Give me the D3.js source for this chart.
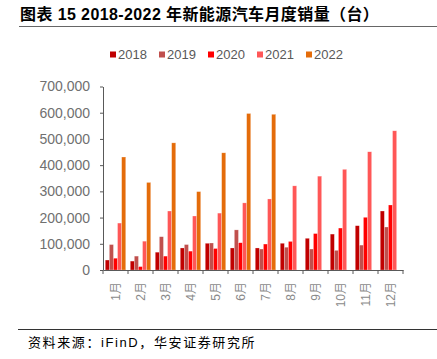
<!doctype html>
<html>

<head>
    <meta charset="utf-8">
    <style>
        body {
            margin: 0;
            background: #fff;
        }

        text {
            font-family: Arial, "Liberation Sans", "Noto Sans CJK SC", sans-serif;
        }

        .axis path,
        .axis line {
            stroke: #595959;
        }

        .y text {
            font-size: 14px;
            fill: #707070;
        }

        .x text {
            font-size: 12px;
            fill: #8a8a8a;
        }
    </style>
    <script src="https://d3js.org/d3.v7.min.js"></script>
</head>

<body>
    <script>
        const months = ["1月", "2月", "3月", "4月", "5月", "6月", "7月", "8月", "9月", "10月", "11月", "12月"]
        const years = ["2018", "2019", "2020", "2021", "2022"]
        const colors = ["#C00000", "#C0504D", "#FF0000", "#FF5757", "#E46C0A"]

        // monthly sales per year (units)
        const s2018 = [38000, 34000, 68000, 84000, 102000, 84000, 84000, 102000, 121000, 137000, 169000, 225000]
        const s2019 = [97000, 53000, 127000, 97000, 103000, 153000, 80000, 87000, 80000, 75000, 95000, 164000]
        const s2020 = [45000, 13000, 53000, 72000, 82000, 104000, 99000, 109000, 139000, 160000, 201000, 248000]
        const s2021 = [179000, 110000, 225000, 206000, 217000, 256000, 271000, 321000, 358000, 384000, 451000, 531000]
        const s2022 = [431000, 334000, 485000, 299000, 447000, 597000, 594000, null, null, null, null, null]
        const series = [s2018, s2019, s2020, s2021, s2022]

        const yTicks = [0, 100000, 200000, 300000, 400000, 500000, 600000, 700000]

        const svg = d3.select("body").append("svg")
            .attr("width", 437)
            .attr("height", 359)

        // title
        svg.append("text")
            .attr("x", 20)
            .attr("y", 20)
            .style("font-size", "16px")
            .style("font-weight", "bold")
            .style("letter-spacing", "0.4px")
            .style("fill", "#000")
            .text("图表 15 2018-2022 年新能源汽车月度销量（台）")

        svg.append("line")
            .attr("x1", 19).attr("x2", 437)
            .attr("y1", 26.5).attr("y2", 26.5)
            .attr("stroke", "#666").attr("stroke-width", 1)

        const x = d3.scaleBand().domain(months).range([103, 403])
        const inner = d3.scaleBand().domain(years).range([0, x.bandwidth()]).paddingOuter(0.55)
        const y = d3.scaleLinear().domain([0, 700000]).range([270, 86.5])

        // bars
        const rows = []
        series.forEach((s, i) => s.forEach((v, j) => {
            if (v != null) rows.push({ m: months[j], yr: years[i], v: v, c: colors[i] })
        }))

        svg.append("g")
            .selectAll("rect")
            .data(rows)
            .enter()
            .append("rect")
            .attr("x", d => x(d.m) + inner(d.yr))
            .attr("width", inner.bandwidth())
            .attr("y", d => y(d.v))
            .attr("height", d => y(0) - y(d.v))
            .attr("fill", d => d.c)
            .attr("stroke", "#fff")
            .attr("stroke-opacity", 0.5)
            .attr("stroke-width", 0.5)

        // y axis
        svg.append("g")
            .attr("class", "axis y")
            .attr("transform", "translate(103,0)")
            .call(d3.axisLeft(y).tickValues(yTicks).tickSize(3).tickSizeOuter(0).tickPadding(10).tickFormat(d3.format(",")))

        // x axis
        const xAxis = svg.append("g")
            .attr("class", "axis x")
            .attr("transform", "translate(0,270)")
            .call(d3.axisBottom(x).tickSize(0).tickSizeOuter(0).tickFormat(""))

        xAxis.selectAll(".sep")
            .data(months.concat(["end"]))
            .enter()
            .append("line")
            .attr("class", "sep")
            .attr("x1", (d, i) => 103 + i * x.step())
            .attr("x2", (d, i) => 103 + i * x.step())
            .attr("y1", 0).attr("y2", 4)

        svg.append("g")
            .attr("class", "x")
            .selectAll("text")
            .data(months)
            .enter()
            .append("text")
            .attr("transform", d => `translate(${x(d) + x.bandwidth() / 2 + 4},282) rotate(-90)`)
            .attr("text-anchor", "end")
            .text(d => d)

        // legend
        const legend = svg.append("g")
            .selectAll("g")
            .data(years)
            .enter()
            .append("g")
            .attr("transform", (d, i) => `translate(${110 + i * 49},52)`)

        legend.append("rect")
            .attr("width", 6).attr("height", 6)
            .attr("y", -0.5)
            .attr("fill", (d, i) => colors[i])

        legend.append("text")
            .attr("x", 8)
            .attr("y", 7)
            .style("font-size", "13px")
            .style("fill", "#595959")
            .text(d => d)

        // source
        svg.append("line")
            .attr("x1", 18).attr("x2", 437)
            .attr("y1", 329.5).attr("y2", 329.5)
            .attr("stroke", "#333").attr("stroke-width", 1)

        svg.append("text")
            .attr("x", 28)
            .attr("y", 347)
            .style("font-size", "13px")
            .style("letter-spacing", "1.6px")
            .style("fill", "#000")
            .text("资料来源：iFinD，华安证券研究所")
    </script>
</body>

</html>
